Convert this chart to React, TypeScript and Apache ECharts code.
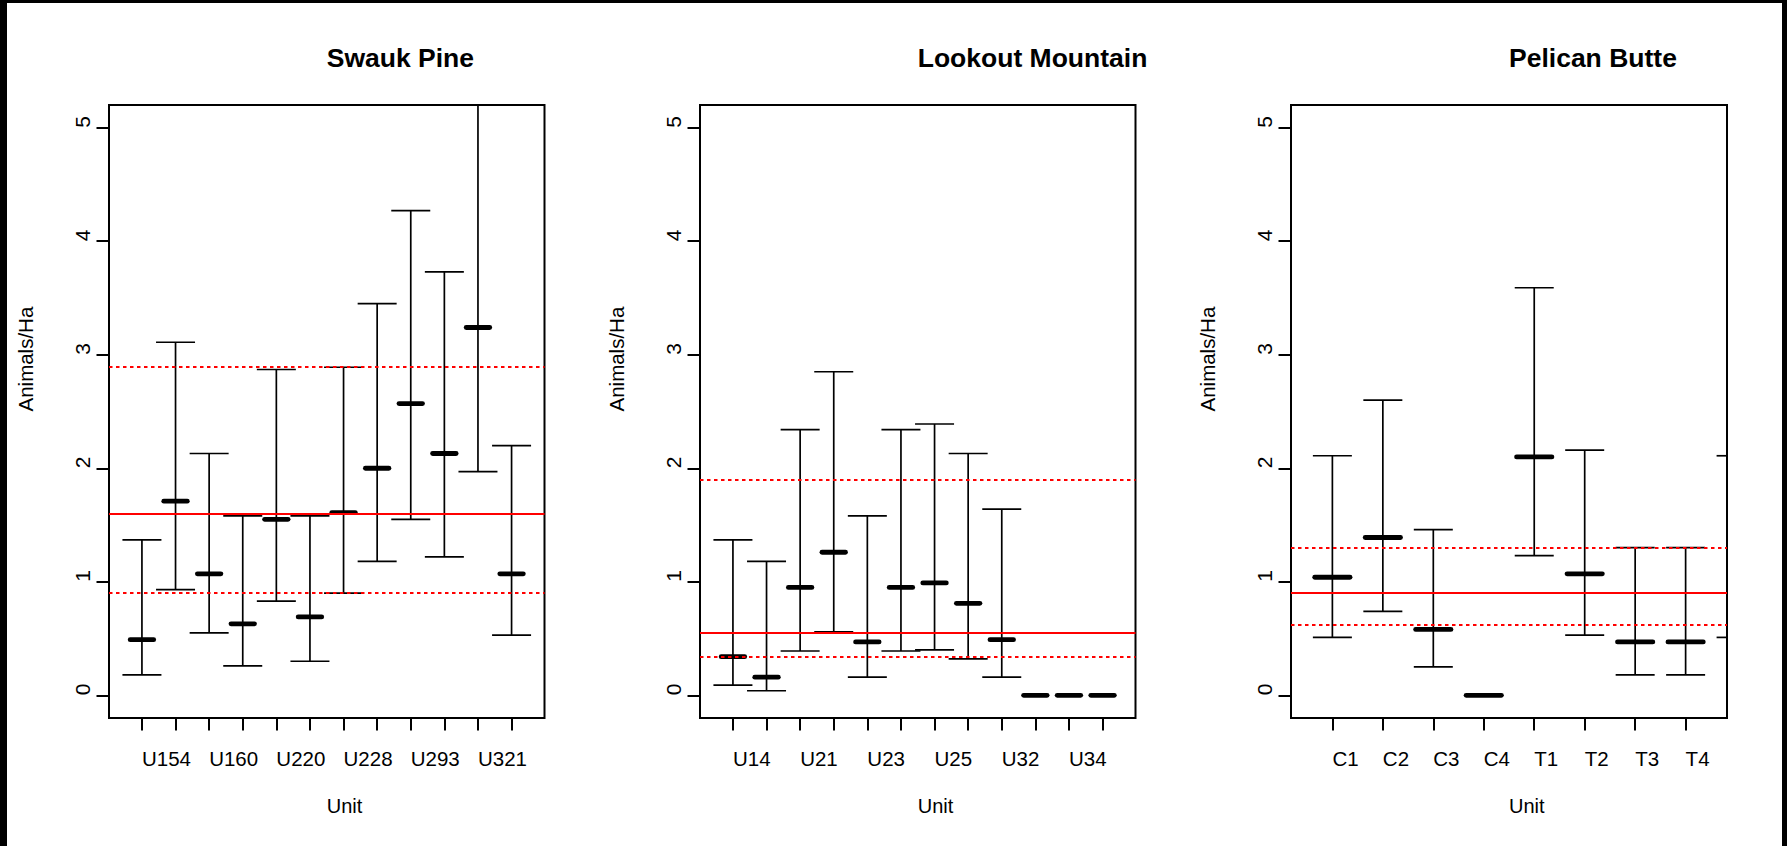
import React, { useEffect, useRef } from "react";
import * as echarts from "echarts";

// ---------- data ----------
const panelTitles = ["Swauk Pine", "Lookout Mountain", "Pelican Butte"];
const yTicks = [0, 1, 2, 3, 4, 5];

// Swauk Pine: 12 units, only every other name is printed in the reference
const swaukUnits = ["U154", "", "U160", "", "U220", "", "U228", "", "U293", "", "U321", ""];
const swaukMean = [0.49, 1.71, 1.07, 0.63, 1.55, 0.69, 1.61, 2.0, 2.57, 2.13, 3.24, 1.07];
const swaukLower = [0.18, 0.93, 0.55, 0.26, 0.83, 0.3, 0.9, 1.18, 1.55, 1.22, 1.97, 0.53];
const swaukUpper = [1.37, 3.11, 2.13, 1.58, 2.87, 1.58, 2.89, 3.45, 4.27, 3.73, 5.4, 2.2];
const swaukOverall = 1.6;
const swaukCI = [0.9, 2.89];

// Lookout Mountain: 12 units
const lookoutUnits = ["U14", "", "U21", "", "U23", "", "U25", "", "U32", "", "U34", ""];
const lookoutMean = [0.34, 0.16, 0.95, 1.26, 0.47, 0.95, 0.99, 0.81, 0.49, 0, 0, 0];
const lookoutLower = [0.09, 0.04, 0.39, 0.56, 0.16, 0.39, 0.4, 0.32, 0.16, null, null, null];
const lookoutUpper = [1.37, 1.18, 2.34, 2.85, 1.58, 2.34, 2.39, 2.13, 1.64, null, null, null];
const lookoutOverall = 0.55;
const lookoutCI = [0.34, 1.9];

// Pelican Butte: 8 units (+ a 9th bar that is clipped at the right edge)
const pelicanUnits = ["C1", "C2", "C3", "C4", "T1", "T2", "T3", "T4", ""];
const pelicanMean = [1.04, 1.39, 0.58, 0, 2.1, 1.07, 0.47, 0.47, null];
const pelicanLower = [0.51, 0.74, 0.25, null, 1.23, 0.53, 0.18, 0.18, 0.51];
const pelicanUpper = [2.11, 2.6, 1.46, null, 3.59, 2.16, 1.3, 1.3, 2.11];
const pelicanOverall = 0.9;
const pelicanCI = [0.62, 1.3];

// ---------- layout ----------
const W = 1787;
const H = 846;
const FONT = "'Liberation Sans', Arial, Helvetica, sans-serif";
const BOX_TOP = 105;
const BOX_H = 613;
const BOX_LEFT = [109, 700, 1291];
const BOX_W = [435.5, 435.5, 436];
const CAP_HALF = 19.5;
const MEAN_HALF = 0.35;

type Panel = {
  units: string[];
  mean: (number | null)[];
  lower: (number | null)[];
  upper: (number | null)[];
  overall: number;
  ci: number[];
  nShown: number;
  labelEvery: number;
  xMin: number;
  xMax: number;
};

const panels: Panel[] = [
  { units: swaukUnits, mean: swaukMean, lower: swaukLower, upper: swaukUpper, overall: swaukOverall, ci: swaukCI, nShown: 12, labelEvery: 2, xMin: 0.02, xMax: 12.98 },
  { units: lookoutUnits, mean: lookoutMean, lower: lookoutLower, upper: lookoutUpper, overall: lookoutOverall, ci: lookoutCI, nShown: 12, labelEvery: 2, xMin: 0.02, xMax: 12.98 },
  { units: pelicanUnits, mean: pelicanMean, lower: pelicanLower, upper: pelicanUpper, overall: pelicanOverall, ci: pelicanCI, nShown: 8, labelEvery: 1, xMin: 0.18, xMax: 8.82 },
];

function renderErrorBar(params: any, api: any) {
  const cs = params.coordSys;
  const left = cs.x, right = cs.x + cs.width, top = cs.y, bottom = cs.y + cs.height;
  const x = api.value(0);
  const m = api.value(1);
  const lo = api.value(2);
  const hi = api.value(3);
  const children: any[] = [];
  const px = api.coord([x, 0])[0];
  const clampY = (v: number) => Math.max(top, Math.min(bottom, v));
  if (isFinite(lo) && isFinite(hi)) {
    const yLo = api.coord([x, lo])[1];
    const yHi = api.coord([x, hi])[1];
    if (px >= left && px <= right) {
      children.push({
        type: "line",
        shape: { x1: px, y1: clampY(yLo), x2: px, y2: clampY(yHi) },
        style: { stroke: "#000", lineWidth: 1.7 },
      });
    }
    [yLo, yHi].forEach((yy) => {
      if (yy >= top && yy <= bottom) {
        const x1 = Math.max(left, px - CAP_HALF);
        const x2 = Math.min(right, px + CAP_HALF);
        if (x2 > x1) {
          children.push({
            type: "line",
            shape: { x1, y1: yy, x2, y2: yy },
            style: { stroke: "#000", lineWidth: 1.7 },
          });
        }
      }
    });
  }
  if (isFinite(m)) {
    const a = api.coord([x - MEAN_HALF, m]);
    const b = api.coord([x + MEAN_HALF, m]);
    if (a[0] >= left && b[0] <= right) {
      children.push({
        type: "line",
        shape: { x1: a[0], y1: a[1], x2: b[0], y2: b[1] },
        style: { stroke: "#000", lineWidth: 4.8, lineCap: "round" },
      });
    }
  }
  return { type: "group", children };
}

function buildOption() {
  const grid: any[] = [];
  const xAxis: any[] = [];
  const yAxis: any[] = [];
  const series: any[] = [];
  const title: any[] = [];

  panels.forEach((p, i) => {
    grid.push({
      left: BOX_LEFT[i],
      top: BOX_TOP,
      width: BOX_W[i],
      height: BOX_H,
      show: true,
      borderColor: "#000",
      borderWidth: 2,
      backgroundColor: "transparent",
      containLabel: false,
      outerBoundsMode: "none",
    });
    const tickVals: number[] = [];
    const labelVals: number[] = [];
    for (let k = 1; k <= p.nShown; k++) {
      tickVals.push(k);
      if ((k - 1) % p.labelEvery === 0) labelVals.push(k);
    }
    xAxis.push({
      type: "value",
      gridIndex: i,
      min: p.xMin,
      max: p.xMax,
      name: "Unit",
      nameLocation: "middle",
      nameGap: 88,
      nameMoveOverlap: false,
      nameTextStyle: { fontSize: 20, color: "#000", fontFamily: FONT, align: "left", verticalAlign: "middle" },
      axisLine: { show: false, onZero: false },
      splitLine: { show: false },
      axisTick: { show: true, inside: false, length: 12.5, customValues: tickVals, lineStyle: { color: "#000", width: 2 } },
      axisLabel: {
        show: true,
        customValues: labelVals,
        formatter: (v: number) => p.units[Math.round(v) - 1] ?? "",
        fontSize: 20.5,
        color: "#000",
        fontFamily: FONT,
        align: "left",
        verticalAlign: "middle",
        margin: 40.5,
        hideOverlap: false,
      },
    });
    yAxis.push({
      type: "value",
      gridIndex: i,
      min: -0.2,
      max: 5.2,
      name: "Animals/Ha",
      nameLocation: "middle",
      nameRotate: 90,
      nameGap: 84,
      nameMoveOverlap: false,
      nameTextStyle: { fontSize: 20.5, color: "#000", fontFamily: FONT, align: "left", verticalAlign: "middle" },
      axisLine: { show: false, onZero: false },
      splitLine: { show: false },
      axisTick: { show: true, inside: false, length: 12.5, customValues: yTicks, lineStyle: { color: "#000", width: 2 } },
      axisLabel: {
        show: true,
        customValues: yTicks,
        formatter: (v: number) => String(v),
        rotate: 90,
        fontSize: 21,
        color: "#000",
        fontFamily: FONT,
        align: "left",
        verticalAlign: "middle",
        margin: 27,
        hideOverlap: false,
      },
    });
    const rows = p.units.map((_, k) => [k + 1, p.mean[k], p.lower[k], p.upper[k]]);
    series.push({
      type: "custom",
      name: panelTitles[i],
      xAxisIndex: i,
      yAxisIndex: i,
      renderItem: renderErrorBar,
      data: rows,
      encode: { x: 0, y: 1 },
      silent: true,
      z: 2,
    });
    series.push({
      type: "line",
      name: panelTitles[i] + " overall",
      xAxisIndex: i,
      yAxisIndex: i,
      data: [],
      z: 5,
      markLine: {
        silent: true,
        symbol: ["none", "none"],
        label: { show: false },
        emphasis: { disabled: true },
        lineStyle: { color: "#ff0000", width: 2 },
        data: [
          { yAxis: p.overall, lineStyle: { type: "solid", color: "#ff0000", width: 2 } },
          { yAxis: p.ci[0], lineStyle: { type: [3.5, 3.5], color: "#ff0000", width: 2 } },
          { yAxis: p.ci[1], lineStyle: { type: [3.5, 3.5], color: "#ff0000", width: 2 } },
        ],
      },
    });
    title.push({
      text: panelTitles[i],
      left: BOX_LEFT[i] + BOX_W[i] / 2,
      top: 44.5,
      textAlign: "left",
      padding: 0,
      textStyle: { fontSize: 26.5, fontWeight: "bold", color: "#000", fontFamily: FONT, lineHeight: 27 },
    });
  });

  return {
    animation: false,
    backgroundColor: "#ffffff",
    textStyle: { fontFamily: FONT },
    title,
    grid,
    xAxis,
    yAxis,
    series,
    graphic: [
      { type: "rect", silent: true, z: 100, shape: { x: 0, y: 0, width: W, height: 3 }, style: { fill: "#000" } },
      { type: "rect", silent: true, z: 100, shape: { x: 0, y: 0, width: 7, height: H }, style: { fill: "#000" } },
      { type: "rect", silent: true, z: 100, shape: { x: W - 5, y: 0, width: 5, height: H }, style: { fill: "#000" } },
    ],
  };
}

export default function App() {
  const ref = useRef<HTMLDivElement>(null);
  useEffect(() => {
    if (!ref.current) return;
    const chart = echarts.init(ref.current, null, { renderer: "svg" });
    chart.setOption(buildOption() as any);
    return () => {
      chart.dispose();
    };
  }, []);
  return (
    <div
      ref={ref}
      style={{ position: "absolute", left: 0, top: 0, width: W, height: H, background: "#fff" }}
    />
  );
}
